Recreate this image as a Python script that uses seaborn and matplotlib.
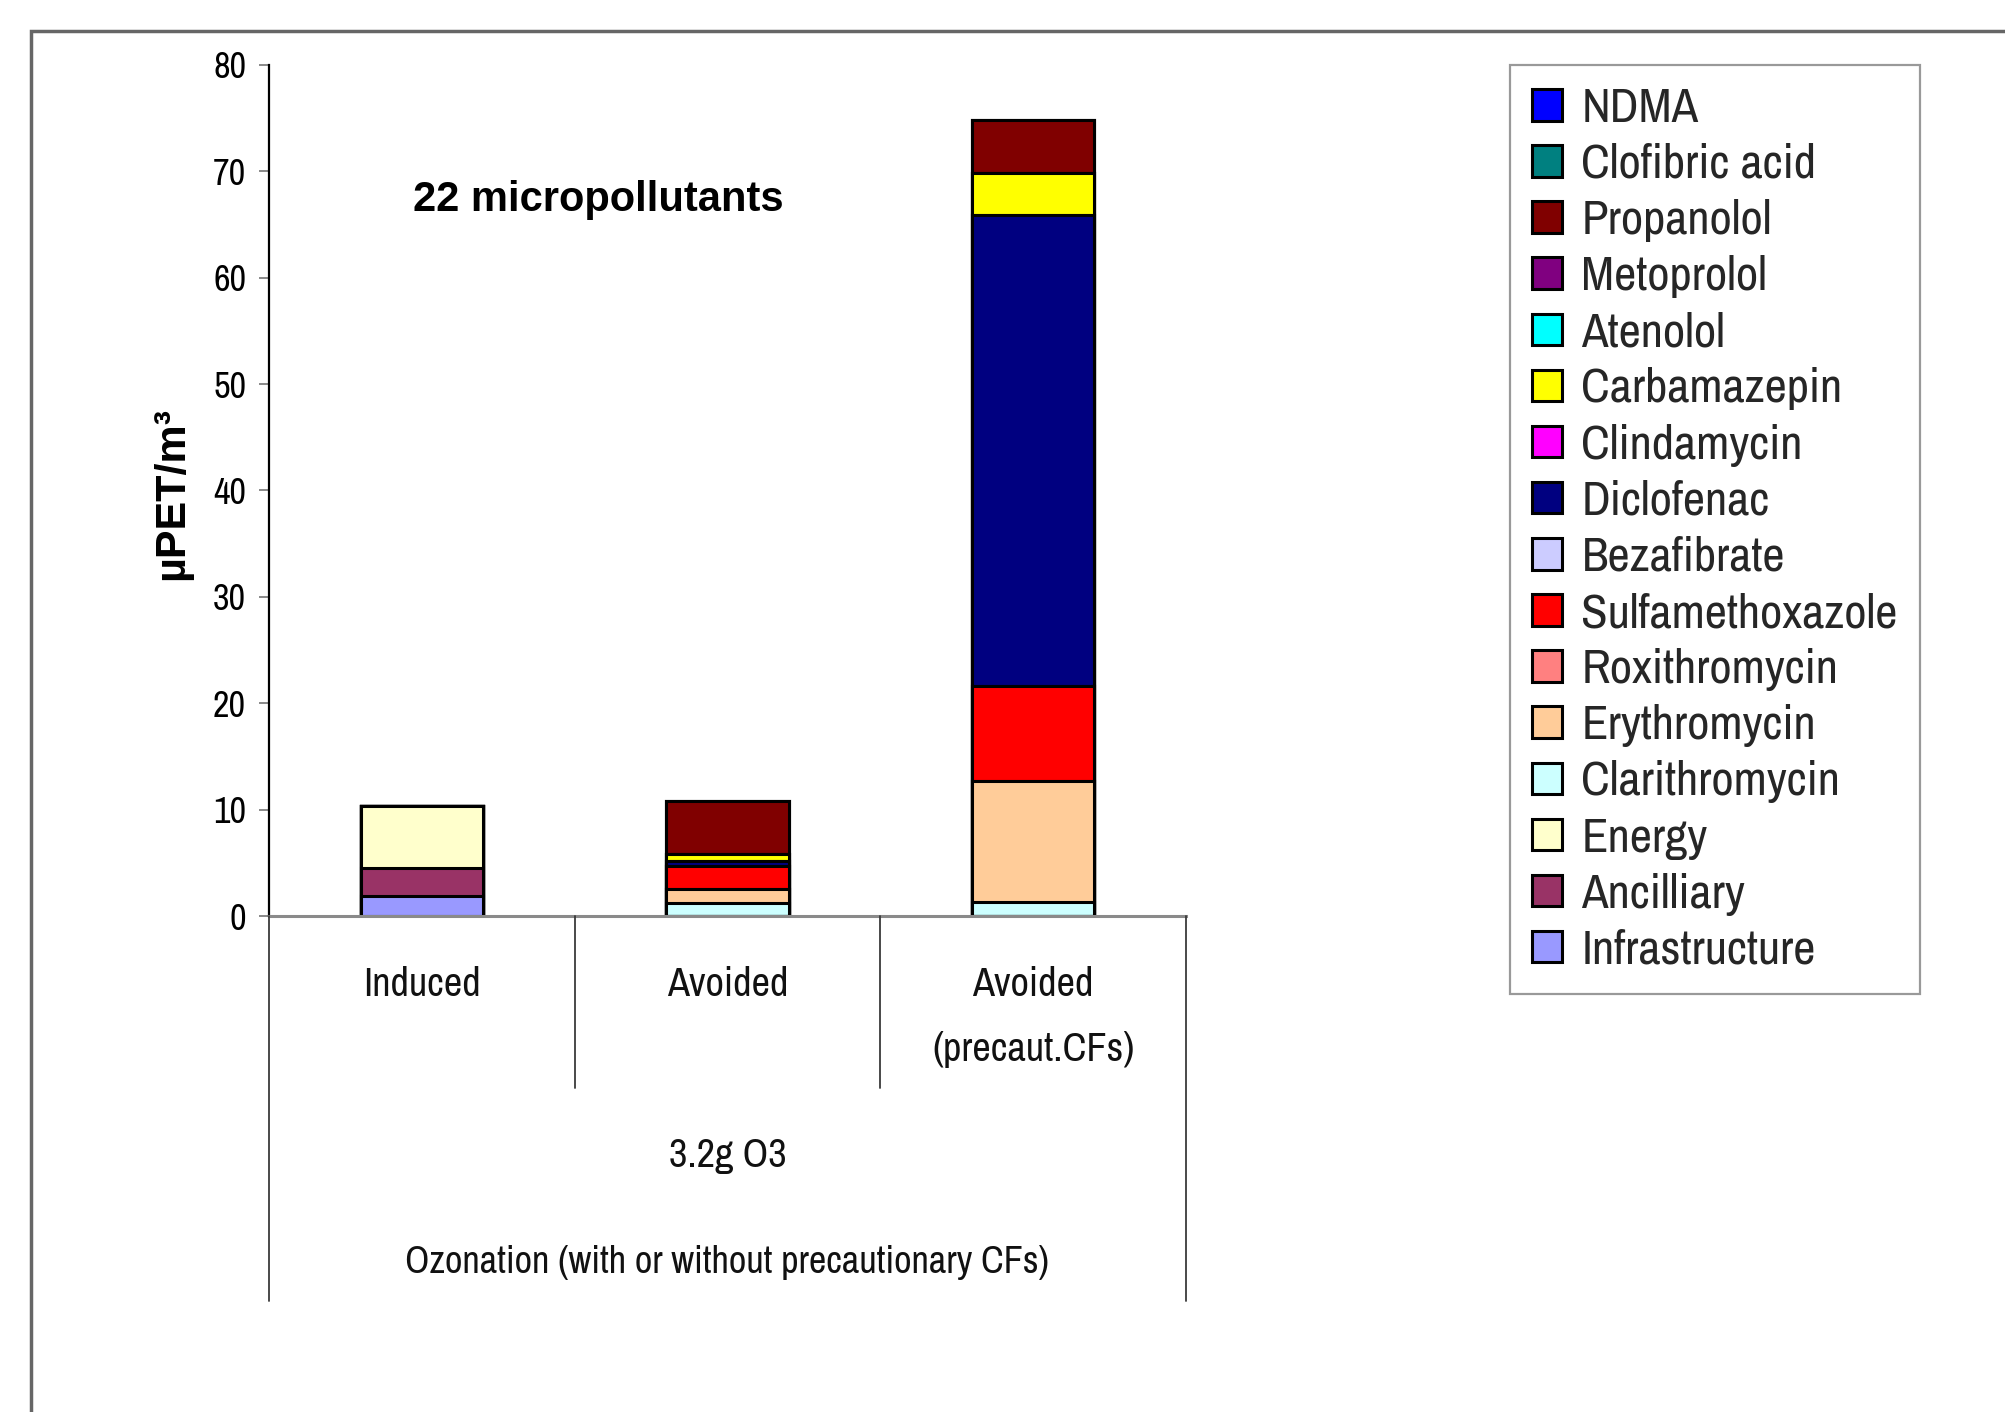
import matplotlib
matplotlib.use("Agg")
import matplotlib.pyplot as plt
import matplotlib.transforms as mtransforms
from matplotlib import font_manager
from matplotlib.patches import Patch, Rectangle
from matplotlib.lines import Line2D
import pandas as pd
import seaborn as sns

# ---- data ---------------------------------------------------------------
categories = ["Induced", "Avoided", "Avoided\n(precaut.CFs)"]
group_label = "3.2g O3"
process_label = "Ozonation (with or without precautionary CFs)"
title_text = "22 micropollutants"
y_label = "\u00b5PET/m\u00b3"
y_ticks = [0, 10, 20, 30, 40, 50, 60, 70, 80]

# stacking order, bottom to top
components = ["Infrastructure", "Ancilliary", "Energy", "Clarithromycin",
              "Erythromycin", "Roxithromycin", "Sulfamethoxazole", "Bezafibrate",
              "Diclofenac", "Clindamycin", "Carbamazepin", "Atenolol",
              "Metoprolol", "Propanolol", "Clofibric acid", "NDMA"]
component_colors = ["#9999FF", "#993366", "#FFFFCC", "#CCFFFF",
                    "#FFCC99", "#FF8080", "#FF0000", "#CCCCFF",
                    "#000080", "#FF00FF", "#FFFF00", "#00FFFF",
                    "#800080", "#800000", "#008080", "#0000FF"]

induced_values = [1.85, 2.69, 5.77, 0, 0, 0, 0, 0, 0, 0, 0, 0, 0, 0, 0, 0]
avoided_values = [0, 0, 0, 1.22, 1.35, 0, 2.15, 0, 0.45, 0, 0.65, 0, 0, 4.98, 0, 0]
avoided_precaut_values = [0, 0, 0, 1.32, 11.4, 0, 8.87, 0, 44.27, 0, 4.0, 0, 0, 4.94, 0, 0]

# ---- long table with cumulative stack heights ---------------------------
rows = []
for cat, vals in zip(categories, [induced_values, avoided_values, avoided_precaut_values]):
    for comp, v in zip(components, vals):
        rows.append({"category": cat, "component": comp, "value": v})
df = pd.DataFrame(rows)
df["top"] = df.groupby("category", sort=False)["value"].cumsum()

# ---- fonts --------------------------------------------------------------
installed = {f.name for f in font_manager.fontManager.ttflist}


def font_list(prefs):
    return [p for p in prefs if p in installed] + ["DejaVu Sans"]


narrow = font_list(["Liberation Sans Narrow", "Arial Narrow", "Archivo Narrow",
                    "Liberation Sans"])
regular = font_list(["Liberation Sans", "Arial"])

sns.set_theme(style="white")
plt.rcParams["font.family"] = narrow

W, H = 2006, 1412
fig = plt.figure(figsize=(W / 100, H / 100), dpi=100)
fig.patch.set_facecolor("white")


def fx(px):
    return px / W


def fy(py):
    return 1 - py / H


ax = fig.add_axes([fx(269), fy(916), fx(1186) - fx(269), fy(65) - fy(916)])
ax.set_facecolor("white")

# draw stacks from the top segment down so every lower segment overlays the one above
for comp, col in reversed(list(zip(components, component_colors))):
    sub = df[df["component"] == comp]
    sns.barplot(data=sub, x="category", y="top", order=categories, color=col,
                saturation=1, width=0.4, edgecolor="black", linewidth=2.2,
                errorbar=None, ax=ax)

ax.set_xlim(-0.5, 2.5)
ax.set_ylim(0, 80)
ax.set_yticks(y_ticks)
ax.set_yticklabels([str(t) for t in y_ticks])
ax.set_xticks([])
ax.set_xlabel("")
ax.set_ylabel("")

for side in ["top", "right"]:
    ax.spines[side].set_visible(False)
ax.spines["left"].set_color("black")
ax.spines["left"].set_linewidth(1.6)
ax.spines["bottom"].set_color("#8a8a8a")
ax.spines["bottom"].set_linewidth(2.2)
ax.tick_params(axis="y", direction="out", length=7.5, width=1.3, color="#808080",
               labelsize=26, pad=9, labelcolor="black", left=True)
for t in ax.get_yticklabels():
    t.set_family(narrow)

# multi-level category axis below the plot
trans = mtransforms.blended_transform_factory(ax.transData, fig.transFigure)
sep_color = "#3a3a3a"
for xb, bottom_px in [(-0.5, 1301), (0.5, 1088), (1.5, 1088), (2.5, 1301)]:
    fig.add_artist(Line2D([xb, xb], [fy(916), fy(bottom_px)], transform=trans,
                          color=sep_color, lw=1.3))

for i, lab in enumerate(categories):
    for j, line in enumerate(lab.split("\n")):
        fig.text(i, fy(985 + 64 * j), line, transform=trans, ha="center",
                 va="center", fontsize=29, family=narrow, color="#111111")

fig.text(1, fy(1156), group_label, transform=trans, ha="center", va="center",
         fontsize=29, family=narrow, color="#111111")
fig.text(1, fy(1263), process_label, transform=trans, ha="center", va="center",
         fontsize=27.5, family=narrow, color="#111111")

# chart annotations
fig.text(fx(413), fy(200), title_text, ha="left", va="center", fontsize=30,
         fontweight="bold", family=regular, color="black")
fig.text(fx(172), fy(494), y_label, rotation=90, ha="center", va="center",
         fontsize=31, fontweight="bold", family=regular, color="black")

# legend: series listed from top of the stack to bottom
handles = [Patch(facecolor=c, edgecolor="black", linewidth=2.2)
           for c in reversed(component_colors)]
labels = list(reversed(components))
leg = fig.legend(handles, labels, loc="upper left",
                 bbox_to_anchor=(fx(1510), fy(65)), bbox_transform=fig.transFigure,
                 frameon=True, fancybox=False, shadow=False,
                 prop=font_manager.FontProperties(family=narrow, size=35),
                 handlelength=0.62, handleheight=0.62, handletextpad=0.4,
                 labelspacing=0.27, borderpad=0.45, borderaxespad=0)
leg.get_frame().set_edgecolor("#808080")
leg.get_frame().set_linewidth(1.6)

# outer chart-area frame
fig.add_artist(Rectangle((fx(31), -0.5), 2.0, fy(31) + 0.5, transform=fig.transFigure,
                         fill=False, edgecolor="#666666", linewidth=2.5, clip_on=False))

fig.savefig("out.png", dpi=100, facecolor="white")
